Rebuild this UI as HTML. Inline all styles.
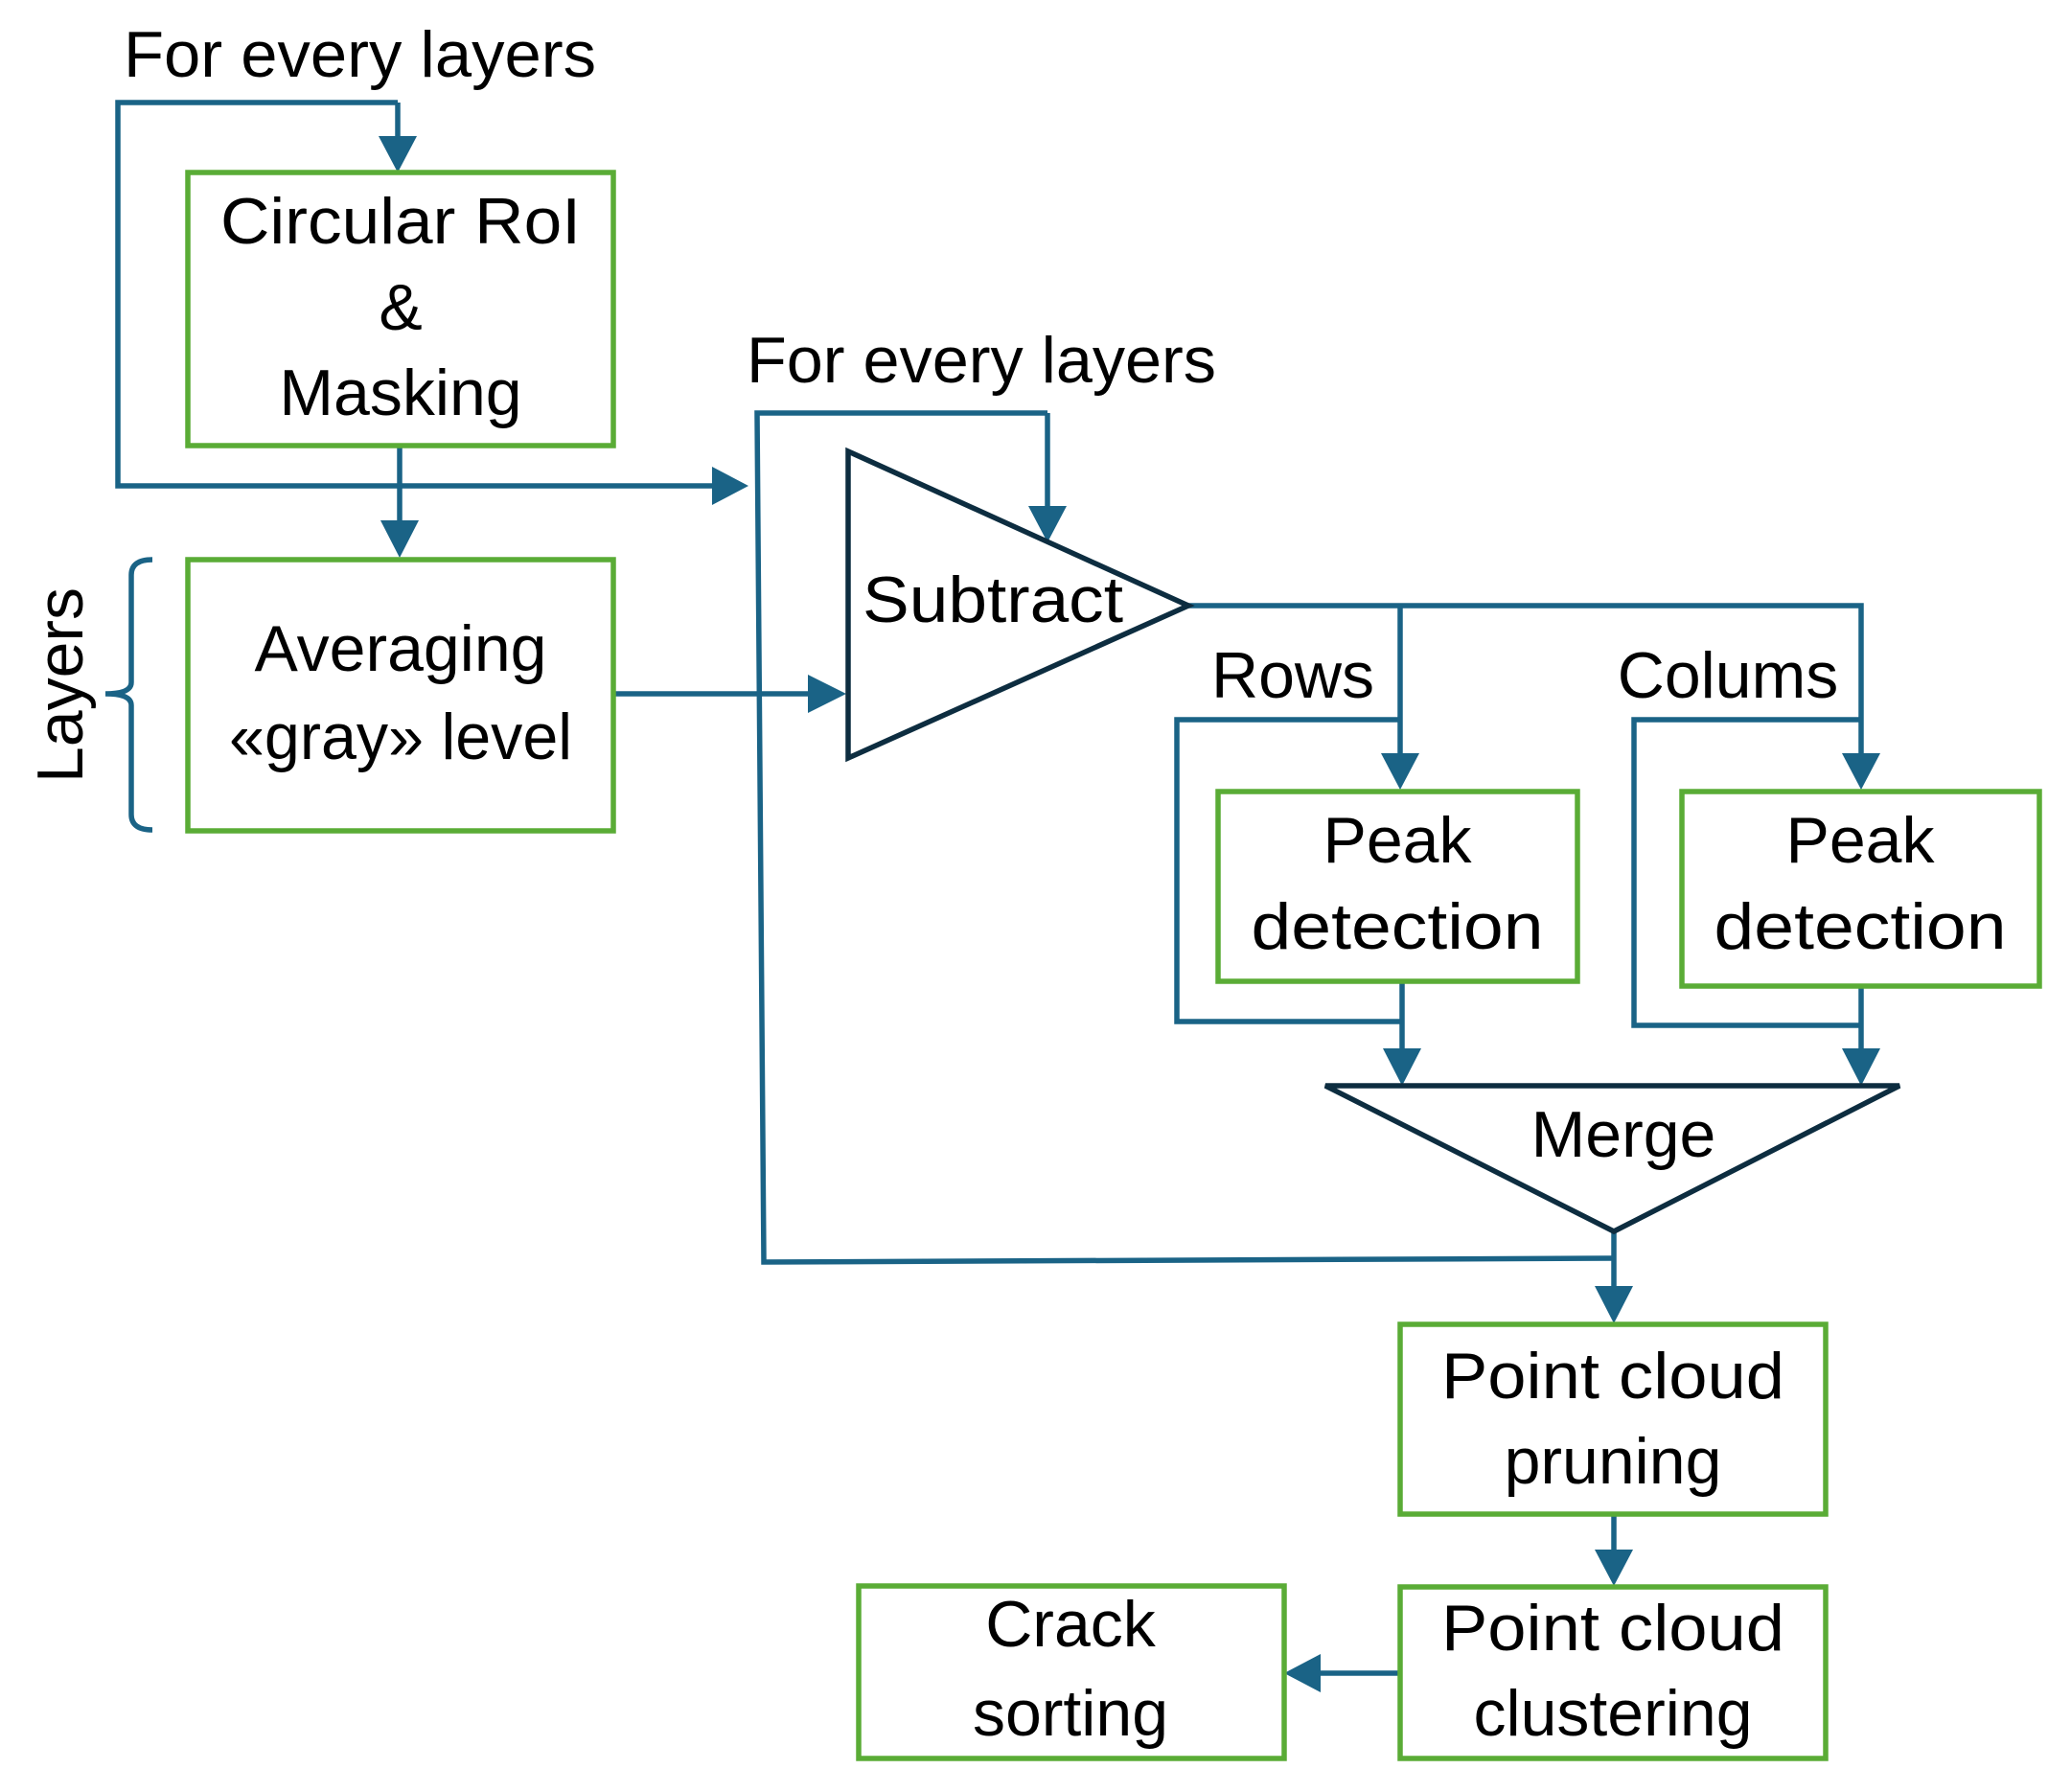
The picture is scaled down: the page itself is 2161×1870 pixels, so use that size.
<!DOCTYPE html>
<html><head><meta charset="utf-8"><style>
html,body{margin:0;padding:0;background:#fff;}
svg{display:block;}
text{font-family:"Liberation Sans",sans-serif;font-size:68px;fill:#000;}
</style></head><body>
<svg width="2161" height="1870" viewBox="0 0 2161 1870" xmlns="http://www.w3.org/2000/svg">
<g fill="none" stroke="#1a6386" stroke-width="5.5">
<polyline points="415,107 123,107 123,507 745,507"/>
<line x1="415" y1="107" x2="415" y2="142"/>
<line x1="417" y1="465" x2="417" y2="545"/>
<line x1="640" y1="724" x2="845" y2="724"/>
<polyline points="1093,431 790,431 797,1317 1684,1313"/>
<line x1="1093" y1="431" x2="1093" y2="528"/>
<polyline points="1238,632 1942,632 1942,786"/>
<line x1="1461" y1="632" x2="1461" y2="786"/>
<polyline points="1461,751 1228,751 1228,1066 1463,1066"/>
<polyline points="1942,751 1705,751 1705,1070 1942,1070"/>
<line x1="1463" y1="1024" x2="1463" y2="1096"/>
<line x1="1942" y1="1029" x2="1942" y2="1096"/>
<line x1="1684" y1="1285" x2="1684" y2="1344"/>
<line x1="1684" y1="1580" x2="1684" y2="1617"/>
<line x1="1461" y1="1746" x2="1378" y2="1746"/>
<path d="M159,584 Q137,584 137,600 L137,712 Q137,724 110,724 Q137,724 137,736 L137,850 Q137,866 159,866"/>
</g>
<g fill="#1a6386">
<polygon points="395,142 435,142 415,180"/>
<polygon points="397,543 437,543 417,582"/>
<polygon points="743,487 743,527 781,507"/>
<polygon points="843,704 843,744 883,724"/>
<polygon points="1073,528 1113,528 1093,566"/>
<polygon points="1441,786 1481,786 1461,824"/>
<polygon points="1922,786 1962,786 1942,824"/>
<polygon points="1443,1094 1483,1094 1463,1133"/>
<polygon points="1922,1094 1962,1094 1942,1133"/>
<polygon points="1664,1342 1704,1342 1684,1381"/>
<polygon points="1664,1617 1704,1617 1684,1655"/>
<polygon points="1378,1726 1378,1766 1340,1746"/>
</g>
<g fill="none" stroke="#0d2d40" stroke-width="5.5">
<polygon points="885,471 1240,632 885,791"/>
<polygon points="1383,1133 1982,1133 1684,1285"/>
</g>
<g fill="none" stroke="#5aac36" stroke-width="5.5">
<rect x="196" y="180" width="444" height="285"/>
<rect x="196" y="584" width="444" height="283"/>
<rect x="1271" y="826" width="375" height="198"/>
<rect x="1755" y="826" width="373" height="203"/>
<rect x="1461" y="1382" width="444" height="198"/>
<rect x="1461" y="1656" width="444" height="179"/>
<rect x="896" y="1655" width="444" height="180"/>
</g>
<text x="129" y="80" textLength="493" lengthAdjust="spacingAndGlyphs">For every layers</text>
<text x="779" y="399" textLength="490" lengthAdjust="spacingAndGlyphs">For every layers</text>
<g text-anchor="middle">
<text x="418" y="254" textLength="376" lengthAdjust="spacingAndGlyphs">Circular RoI</text>
<text x="418" y="344">&amp;</text>
<text x="418" y="433">Masking</text>
<text x="418" y="700">Averaging</text>
<text x="418" y="792" textLength="358" lengthAdjust="spacingAndGlyphs">«gray» level</text>
<text x="1036" y="649" textLength="272" lengthAdjust="spacingAndGlyphs">Subtract</text>
<text x="1349" y="728">Rows</text>
<text x="1803" y="728">Colums</text>
<text x="1458" y="900">Peak</text>
<text x="1458" y="990" textLength="305" lengthAdjust="spacingAndGlyphs">detection</text>
<text x="1941" y="900">Peak</text>
<text x="1941" y="990" textLength="305" lengthAdjust="spacingAndGlyphs">detection</text>
<text x="1694" y="1207">Merge</text>
<text x="1683" y="1459" textLength="358" lengthAdjust="spacingAndGlyphs">Point cloud</text>
<text x="1683" y="1548">pruning</text>
<text x="1683" y="1722" textLength="358" lengthAdjust="spacingAndGlyphs">Point cloud</text>
<text x="1683" y="1811">clustering</text>
<text x="1117" y="1718">Crack</text>
<text x="1117" y="1811">sorting</text>
</g>
<text x="0" y="0" text-anchor="middle" transform="translate(86,715) rotate(-90)">Layers</text>
</svg>
</body></html>
